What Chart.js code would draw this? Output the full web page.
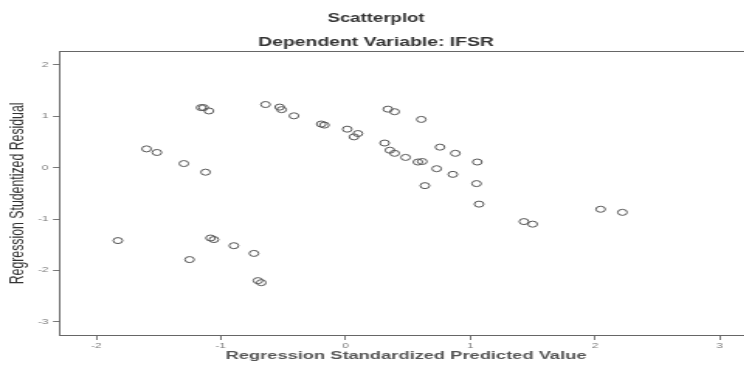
<!DOCTYPE html>
<html><head><meta charset="utf-8">
<script src="https://cdn.jsdelivr.net/npm/chart.js@4.4.1/dist/chart.umd.min.js"></script>
<style>
html,body{margin:0;padding:0;background:#fff;overflow:hidden;width:744px;height:370px;}
/* the reference picture is a horizontally stretched SPSS chart: reproduce the stretch */
#c{display:block;position:absolute;left:0;top:0;transform-origin:0 0;transform:scaleX(1.550515);}
</style></head><body>
<canvas id="c" width="485" height="370"></canvas>
<script>
// Regression Standardized Predicted Value (x) for each case
const predicted = [-1.826,-1.596,-1.513,-1.297,-1.159,-1.139,-1.096,-1.123,-1.083,-1.056,-1.251,-0.896,-0.735,-0.703,-0.676,
  -0.642,-0.529,-0.513,-0.414,-0.195,-0.170,0.013,0.067,0.099,0.339,0.393,0.607,0.313,0.355,0.393,0.481,0.580,0.615,
  0.757,0.880,0.730,0.860,0.636,1.056,1.050,1.070,1.430,1.500,2.045,2.220];
// Regression Studentized Residual (y) for each case
const residual = [-1.42,0.366,0.296,0.08,1.17,1.17,1.105,-0.088,-1.37,-1.40,-1.79,-1.52,-1.67,-2.20,-2.24,
  1.23,1.18,1.13,1.01,0.85,0.83,0.75,0.60,0.665,1.14,1.09,0.94,0.48,0.34,0.28,0.20,0.11,0.12,
  0.40,0.28,-0.02,-0.13,-0.35,0.11,-0.31,-0.71,-1.05,-1.10,-0.81,-0.87];
const xTickValues = [-2,-1,0,1,2,3];
const yTickValues = [-3,-2,-1,0,1,2];
const xRange = [-2.29, 3.259];
const yRange = [-3.259, 2.257];
const chartTitle = 'Scatterplot';
const chartSubtitle = 'Dependent Variable: IFSR';
const xAxisTitle = 'Regression Standardized Predicted Value';
const yAxisTitle = 'Regression Studentized Residual';

const STRETCH = 1.550515;
const points = predicted.map((v,i)=>({x:v,y:residual[i]}));
const FAMILY = 'Liberation Sans, Arial, sans-serif';
const tickFont = {family:FAMILY, size:7.5};
const frame = {display:true, color:'#666', width:1, dash:[1,1]};

new Chart(document.getElementById('c'), {
  type:'scatter',
  data:{datasets:[{
    data:points,
    pointStyle:'circle',
    pointRadius:3,
    pointBorderWidth:1,
    borderColor:'#555',
    backgroundColor:'rgba(0,0,0,0)',
    pointHoverRadius:3
  }]},
  options:{
    responsive:false,
    devicePixelRatio:1,
    animation:false,
    events:[],
    layout:{padding:0, autoPadding:false},
    plugins:{
      legend:{display:false},
      tooltip:{enabled:false},
      title:{
        display:true, text:chartTitle, position:'top', color:'#333',
        font:{family:FAMILY, size:12, weight:'bold', lineHeight:1.2},
        padding:{top:11.8,bottom:8.6}
      },
      subtitle:{
        display:true, text:chartSubtitle, position:'top', color:'#333',
        font:{family:FAMILY, size:12.5, weight:'bold', lineHeight:1.2},
        padding:{top:0,bottom:2.0}
      }
    },
    scales:{
      x:{
        type:'linear', position:'bottom', min:xRange[0], max:xRange[1],
        afterBuildTicks:s=>{s.ticks = xTickValues.map(v=>({value:v}));},
        afterFit:s=>{s.height = 35;},
        ticks:{font:tickFont, color:'#777', padding:1.5, maxRotation:0, callback:v=>String(v)},
        grid:{display:true, drawOnChartArea:false, drawTicks:true, tickLength:5, color:'#777'},
        border:frame,
        title:{display:true, text:xAxisTitle, color:'#555',
          font:{family:FAMILY, size:11.8, weight:'bold', lineHeight:1.2},
          padding:{top:0,bottom:7.5}}
      },
      xTop:{
        type:'linear', position:'top', min:xRange[0], max:xRange[1],
        ticks:{display:false},
        grid:{display:false, drawTicks:false},
        border:frame
      },
      y:{
        type:'linear', position:'left', min:yRange[0], max:yRange[1],
        afterBuildTicks:s=>{s.ticks = yTickValues.map(v=>({value:v}));},
        afterFit:s=>{s.width = 60/STRETCH;},
        ticks:{font:tickFont, color:'#777', padding:3, callback:v=>String(v)},
        grid:{display:true, drawOnChartArea:false, drawTicks:true, tickLength:4.5, color:'#777'},
        border:frame,
        title:{display:true, text:yAxisTitle, color:'#333',
          font:{family:FAMILY, size:12.3, lineHeight:1.2},
          padding:{top:4.2,bottom:0}}
      }
    }
  }
});
</script>
</body></html>
